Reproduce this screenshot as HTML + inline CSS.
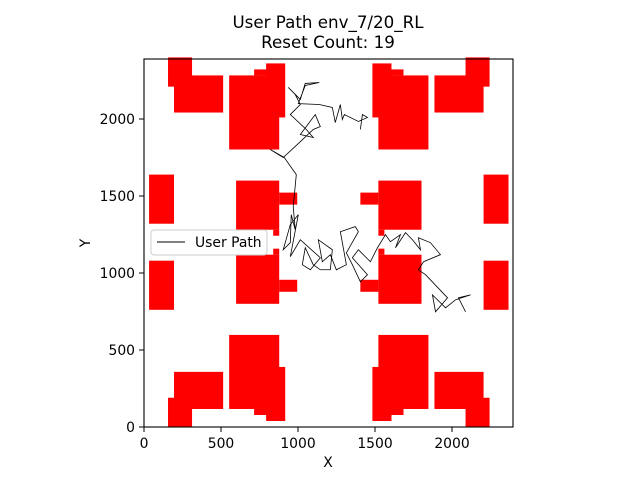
<!DOCTYPE html>
<html><head><meta charset="utf-8"><style>
body{margin:0;background:#fff;}
svg{display:block;font-family:"DejaVu Sans","Liberation Sans",sans-serif;}
</style></head><body>
<svg id="chart" width="640" height="480" xmlns="http://www.w3.org/2000/svg">
<text x="328" y="28" text-anchor="middle" font-size="16.7">User Path env_7/20_RL</text>
<text x="328" y="48" text-anchor="middle" font-size="16.7">Reset Count: 19</text>
<g id="obst"></g>
<g id="path"></g>
<rect x="144" y="59" width="369" height="368" fill="none" stroke="#000" stroke-width="1.1"/>
<g id="xt"></g>
<g id="yt"></g>
<text x="328" y="467" text-anchor="middle" font-size="13.9">X</text>
<text x="90" y="243" text-anchor="middle" font-size="13.9" transform="rotate(-90 90 243)">Y</text>
<g>
<rect x="151" y="230" width="116" height="25" rx="3" fill="#fff" fill-opacity="0.8" stroke="#ccc"/>
<line x1="157" y1="242" x2="185" y2="242" stroke="#000" stroke-width="1"/>
<text x="195" y="247" font-size="13.9">User Path</text>
</g>
</svg>
<script>
const xTicks=[0,500,1000,1500,2000];
const yTicks=[0,500,1000,1500,2000];
// quadrant obstacles [x0,x1,y0,y1] (top-left quadrant), mirrored for the rest
const obsX0=[156,195,553,715,793,33,598,878,839];
const obsX1=[312,514,878,878,917,195,878,995,878];
const obsY0=[2210,2042,1802,2283,2010,1320,1281,1444,1242];
const obsY1=[2400,2283,2283,2322,2361,1639,1600,1522,1281];
const pathX=[2088,2042,2120,2023,1958,1873,1893,1971,1828,1782,1815,1925,1860,1782,1795,1743,1698,1633,1665,1600,1568,1516,1470,1392,1353,1451,1405,1353,1314,1392,1372,1275,1314,1249,1210,1158,1132,1223,1210,1145,1099,1047,1028,1080,1145,1015,950,1002,950,904,950,956,982,969,989,911,820,904,995,1099,1145,1112,1015,1099,1054,950,1015,982,937,1015,1047,1138,1047,1002,1138,1223,1242,1275,1288,1301,1392,1451,1418,1405];
const pathY=[748,839,858,826,774,858,748,839,989,1021,1073,1119,1197,1229,1151,1216,1262,1164,1249,1203,1249,1164,1073,1151,1099,989,943,1054,1131,1268,1301,1268,1054,1021,1119,1073,1216,1151,1021,1021,1054,1164,1054,1021,1099,1216,1106,1379,1314,1151,1197,1379,1281,1431,1639,1750,1802,1750,1834,1932,1951,2029,1899,1880,1932,2029,2094,2159,2205,2127,2231,2237,2218,2100,2094,2075,1977,2094,1997,2029,1984,2010,2029,1932];
const NS="http://www.w3.org/2000/svg";
const X0=144,X1=513.6,Y0=427,Y1=57.4,MAX=2400;
function sx(v){return X0+(v/MAX)*(X1-X0);}
function sy(v){return Y0-(v/MAX)*(Y0-Y1);}
const og=document.getElementById('obst');
for(let i=0;i<obsX0.length;i++){
  for(const mx of [false,true]) for(const my of [false,true]){
    const a=mx?MAX-obsX1[i]:obsX0[i], b=mx?MAX-obsX0[i]:obsX1[i];
    const c=my?MAX-obsY1[i]:obsY0[i], d=my?MAX-obsY0[i]:obsY1[i];
    const r=document.createElementNS(NS,'rect');
    r.setAttribute('x',sx(a));r.setAttribute('width',sx(b)-sx(a));
    r.setAttribute('y',sy(d));r.setAttribute('height',sy(c)-sy(d));
    r.setAttribute('fill','#ff0000');
    
    
    og.appendChild(r);
  }
}
const pg=document.getElementById('path');
const pl=document.createElementNS(NS,'polyline');
pl.setAttribute('points',pathX.map((x,i)=>sx(x)+','+sy(pathY[i])).join(' '));
pl.setAttribute('fill','none');pl.setAttribute('stroke','#000');pl.setAttribute('stroke-width','0.8');


pg.appendChild(pl);
const xg=document.getElementById('xt');
xTicks.forEach(t=>{
  const l=document.createElementNS(NS,'line');
  l.setAttribute('x1',sx(t));l.setAttribute('x2',sx(t));l.setAttribute('y1',427);l.setAttribute('y2',432);l.setAttribute('stroke','#000');
  
  
  xg.appendChild(l);
  const tx=document.createElementNS(NS,'text');
  tx.setAttribute('x',sx(t));tx.setAttribute('y',448);tx.setAttribute('text-anchor','middle');tx.setAttribute('font-size','13.9');
  tx.textContent=t;
  
  
  xg.appendChild(tx);
});
const yg=document.getElementById('yt');
yTicks.forEach(t=>{
  const l=document.createElementNS(NS,'line');
  l.setAttribute('x1',139);l.setAttribute('x2',144);l.setAttribute('y1',sy(t));l.setAttribute('y2',sy(t));l.setAttribute('stroke','#000');
  
  
  yg.appendChild(l);
  const tx=document.createElementNS(NS,'text');
  tx.setAttribute('x',135);tx.setAttribute('y',sy(t)+5);tx.setAttribute('text-anchor','end');tx.setAttribute('font-size','13.9');
  tx.textContent=t;
  
  
  yg.appendChild(tx);
});
</script>
</body></html>
